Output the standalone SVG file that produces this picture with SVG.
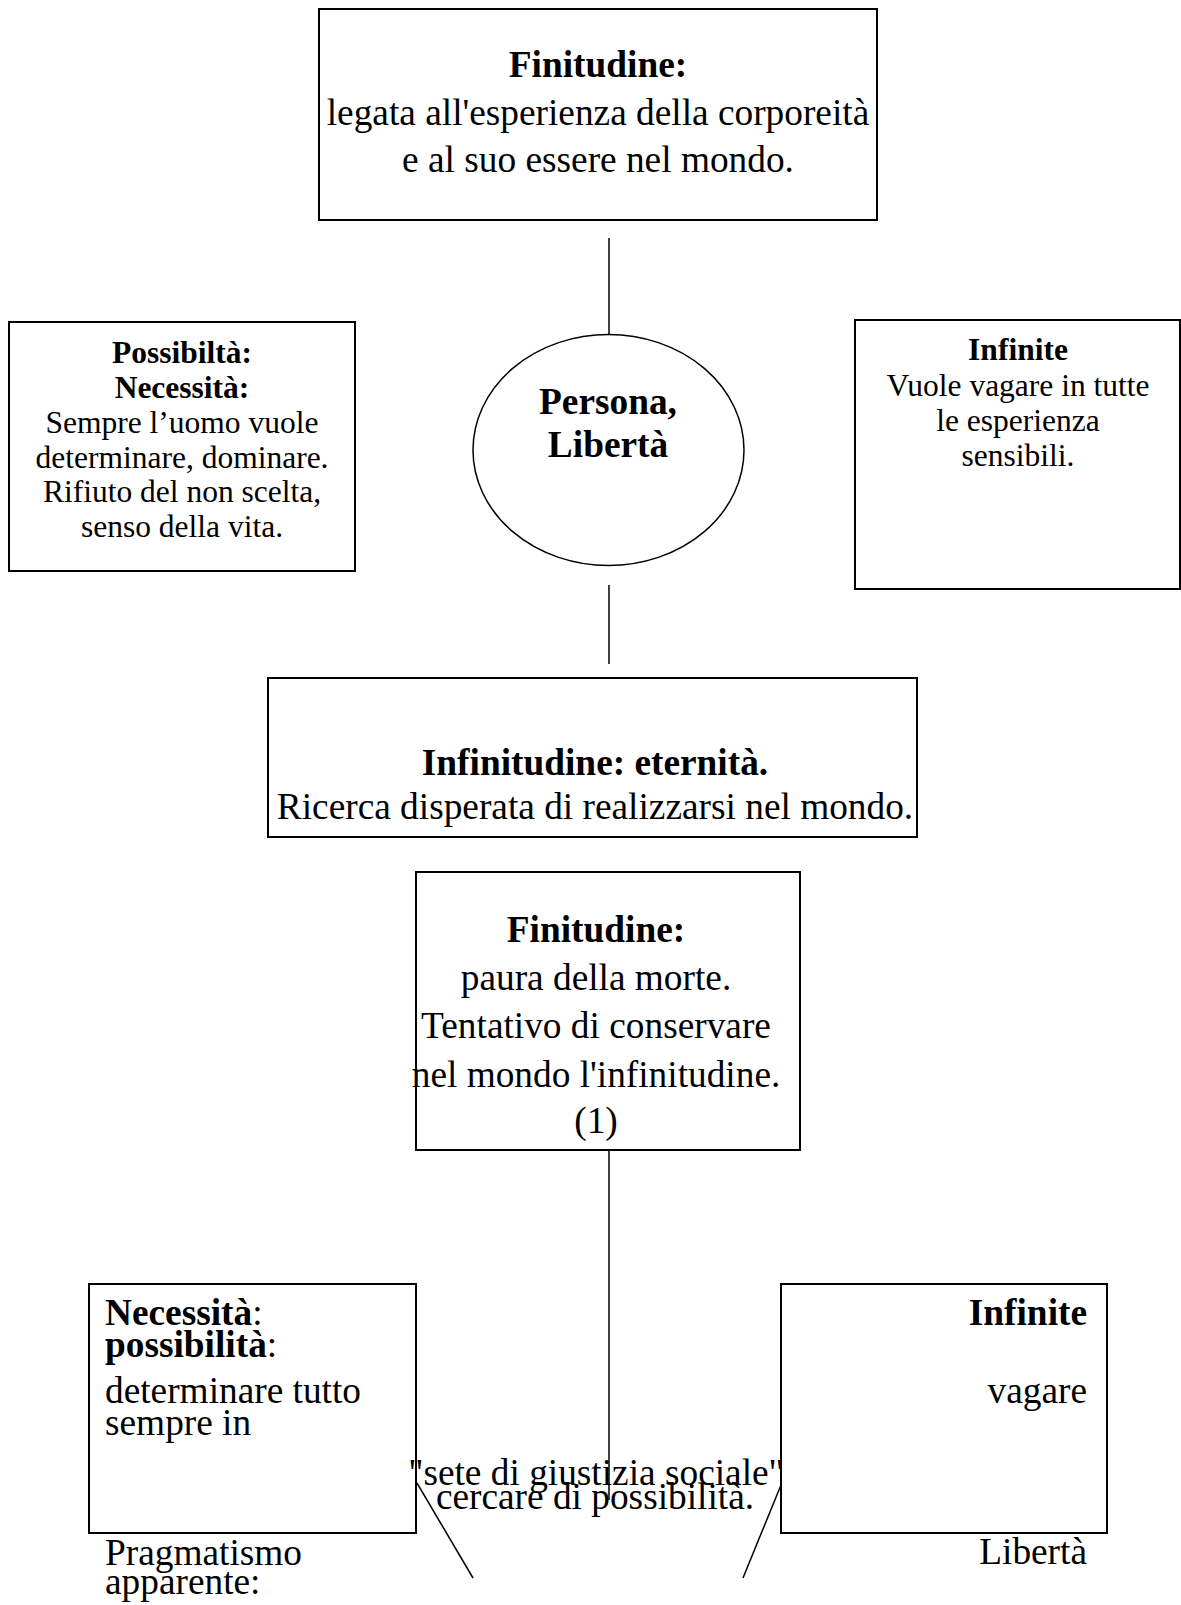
<svg xmlns="http://www.w3.org/2000/svg" width="1181" height="1605" viewBox="0 0 1181 1605">
<style>
text{font-family:"Liberation Serif","Times New Roman",serif;fill:#000}
.t{font-size:37.33px}
.s{font-size:31.5px}
.b{font-weight:bold}
.c{text-anchor:middle}
.r{text-anchor:end}
.box{fill:#fff;stroke:#000;stroke-width:2}
.ln{fill:none;stroke:#000;stroke-width:1.5}
</style>
<rect width="1181" height="1605" fill="#fff"/>
<g id="connectors">
<line class="ln" x1="609" y1="238" x2="609" y2="335"/>
<line class="ln" x1="609" y1="585" x2="609" y2="664"/>
<line class="ln" x1="609" y1="1149" x2="609" y2="1500"/>
<line class="ln" x1="417" y1="1483" x2="473" y2="1578"/>
<line class="ln" x1="781" y1="1485" x2="743" y2="1578"/>
</g>
<g id="finitudine-top">
<rect class="box" x="319" y="9" width="558" height="211"/>
<text class="t c b" x="598" y="77">Finitudine:</text>
<text class="t c" x="598" y="125">legata all'esperienza della corporeità</text>
<text class="t c" x="598" y="172">e al suo essere nel mondo.</text>
</g>
<g id="possibilita">
<rect class="box" x="9" y="322" width="346" height="249"/>
<text class="s c b" x="182" y="363">Possibiltà:</text>
<text class="s c b" x="182" y="398">Necessità:</text>
<text class="s c" x="182" y="433">Sempre l’uomo vuole</text>
<text class="s c" x="182" y="468">determinare, dominare.</text>
<text class="s c" x="182" y="502">Rifiuto del non scelta,</text>
<text class="s c" x="182" y="537">senso della vita.</text>
</g>
<g id="persona">
<ellipse fill="#fff" stroke="#000" stroke-width="1.5" cx="608.5" cy="450" rx="135.5" ry="115.5"/>
<text class="t c b" x="608" y="414">Persona,</text>
<text class="t c b" x="608" y="457">Libertà</text>
</g>
<g id="infinite-top">
<rect class="box" x="855" y="320" width="325" height="269"/>
<text class="s c b" x="1018" y="360">Infinite</text>
<text class="s c" x="1018" y="396">Vuole vagare in tutte</text>
<text class="s c" x="1018" y="431">le esperienza</text>
<text class="s c" x="1018" y="466">sensibili.</text>
</g>
<g id="infinitudine">
<rect class="box" x="268" y="678" width="649" height="159"/>
<text class="t c b" x="595" y="775">Infinitudine: eternità.</text>
<text class="t c" x="595" y="819">Ricerca disperata di realizzarsi nel mondo.</text>
</g>
<g id="finitudine-bottom">
<rect class="box" x="416" y="872" width="384" height="278"/>
<text class="t c b" x="596" y="942">Finitudine:</text>
<text class="t c" x="596" y="990">paura della morte.</text>
<text class="t c" x="596" y="1038">Tentativo di conservare</text>
<text class="t c" x="596" y="1087">nel mondo l'infinitudine.</text>
<text class="t c" x="596" y="1133">(1)</text>
</g>
<g id="necessita">
<rect class="box" x="89" y="1284" width="327" height="249"/>
<text class="t" x="105" y="1325"><tspan class="b">Necessità</tspan>:</text>
<text class="t" x="105" y="1357"><tspan class="b">possibilità</tspan>:</text>
<text class="t" x="105" y="1403">determinare tutto</text>
<text class="t" x="105" y="1435">sempre in</text>
<text class="t" x="105" y="1565">Pragmatismo</text>
<text class="t" x="105" y="1594">apparente:</text>
</g>
<g id="infinite-bottom">
<rect class="box" x="781" y="1284" width="326" height="249"/>
<text class="t r b" x="1087" y="1325">Infinite</text>
<text class="t r" x="1087" y="1403">vagare</text>
<text class="t r" x="1087" y="1564">Libertà</text>
</g>
<g id="center-label">
<text class="t c" x="596" y="1485">"sete di giustizia sociale"</text>
<text class="t c" x="595" y="1509">cercare di possibilità.</text>
</g>
</svg>
